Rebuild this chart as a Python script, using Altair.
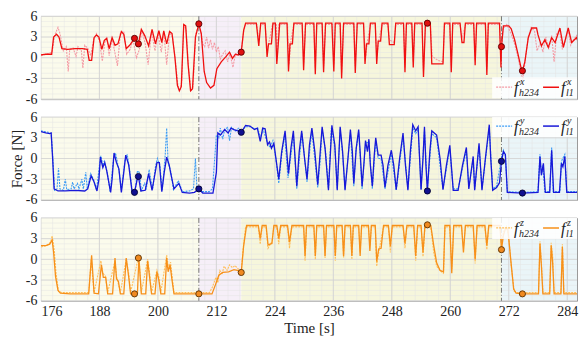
import altair as alt
import pandas as pd

# ---------------- data ----------------
TICKS_X = [176, 188, 200, 212, 224, 236, 248, 260, 272, 284]
TICKS_Y = [-6, -3, 0, 3, 6]
PHASE_EDGES = [176.0, 208.4, 217.1, 270.5, 288.0]
PHASE_COLORS = ["#fbfbec", "#f6eff8", "#f6f6dc", "#eaf5f8"]
PHASE_LINES = [208.4, 270.5]
MARK_T = [195.2, 196.0, 208.4, 217.1, 255.3, 270.5, 274.8]
MARK_X = [2.8, 2.0, 4.9, 0.8, 5.0, 1.6, -1.9]
MARK_Y = [-4.9, -2.6, -4.4, 3.8, -4.7, -0.4, -5.0]
MARK_Z = [-5.0, 0.2, -5.0, -1.9, 5.0, 1.4, -5.0]

FX_L1 = [(176.0, 0.4), (177.0, 0.5), (178.2, 0.5), (178.6, 3.0), (179.2, 3.4), (179.7, 3.0), (180.3, 1.3),
         (181.5, 1.2), (183.0, 1.3), (184.5, 1.3), (185.5, 1.2), (185.9, -0.4), (186.4, -0.4), (186.9, 2.9),
         (187.4, 3.3), (187.9, 3.0), (188.5, 1.2), (189.0, 2.5), (189.5, 2.8), (190.0, 1.3), (190.6, 2.9),
         (191.2, 1.8), (191.8, 2.0), (192.5, 3.8), (193.0, 3.4), (193.5, 1.3), (194.2, 1.8), (194.7, 2.3),
         (195.2, 2.8), (196.0, 2.0), (196.6, 4.1), (197.3, 3.2), (198.1, 1.7), (198.8, 4.1), (199.5, 2.0),
         (200.2, 3.9), (200.8, 2.2), (201.2, 3.9), (201.8, 2.0), (202.4, 3.8), (202.9, 3.5), (203.5, 0.0),
         (204.0, -4.0), (204.4, -4.8), (204.8, -4.2), (205.3, 4.8), (205.7, 4.6), (206.2, -1.0), (206.7, -4.8),
         (207.1, -4.5), (207.7, 3.0), (208.4, 4.9), (208.9, 3.5), (209.5, -2.0), (210.0, -3.6), (210.8, -4.4),
         (211.5, -4.0), (212.1, -1.6), (213.0, -0.6), (214.0, 0.2), (214.7, 0.8), (215.3, -0.1), (215.9, 0.5),
         (216.5, 0.4), (217.1, 0.8), (217.6, 4.0), (218.0, 5.0), (220.2, 5.0), (220.7, 1.7), (221.1, 5.0),
         (222.0, 5.0), (222.4, 0.1), (222.7, 2.0), (223.3, 2.0), (223.6, 5.0), (224.1, 5.0), (224.4, -0.9),
         (224.7, 2.0), (225.0, 5.0), (226.5, 5.0), (226.8, -2.0), (227.1, 2.0), (227.6, 2.0), (227.9, 5.0),
         (229.6, 5.0), (229.9, -1.8), (230.3, 5.0), (232.0, 5.0), (232.3, -2.4), (232.6, 5.0), (233.7, 5.0),
         (234.0, -2.1), (234.4, 5.0), (235.7, 5.0), (236.1, -2.0), (236.4, 5.0), (237.4, 5.0), (237.7, -3.0),
         (238.1, 5.0), (240.2, 5.0), (240.5, -2.2), (240.9, 5.0), (242.2, 5.0), (242.5, -0.9), (242.8, 2.0),
         (243.3, 2.0), (243.6, 5.0), (244.6, 5.0), (244.9, -0.9), (245.2, 2.4), (245.7, 2.4), (246.0, 5.0),
         (247.2, 5.0), (247.5, 1.9), (248.5, 1.9), (248.8, 5.0), (250.4, 5.0), (250.7, -2.1), (251.0, 5.0),
         (252.1, 5.0), (252.4, -1.4), (252.7, 5.0), (254.2, 5.0), (254.5, -2.8), (254.9, 5.0), (255.9, 5.0),
         (256.2, -0.9), (258.5, -0.9), (258.8, 5.0), (259.9, 5.0), (260.2, -2.1), (260.5, 5.0), (262.0, 5.0),
         (262.4, 2.2), (262.8, 2.2), (263.1, 5.0), (264.8, 5.0), (265.1, -1.1), (265.4, 5.0), (267.2, 5.0),
         (267.5, -2.5), (267.8, 5.0), (270.1, 5.0), (270.4, -1.4), (270.5, 1.6), (270.9, 4.6), (272.0, 4.6),
         (272.5, 4.2), (273.2, 2.6), (273.8, 0.8), (274.5, -1.4), (274.8, -1.9), (275.3, -0.6), (276.0, 2.9),
         (276.7, 4.3), (277.7, 4.3), (278.0, 3.3), (278.7, 1.7), (279.4, 2.6), (280.1, 1.5), (280.8, 2.9),
         (281.5, 2.2), (282.5, 4.3), (283.2, 1.5), (284.2, 4.3), (284.9, 2.2), (285.9, 2.9), (286.6, 1.7),
         (287.7, 2.6)]

FX_H234 = [(176.0, 0.3), (177.5, 0.6), (178.3, 0.8), (178.8, 3.2), (179.5, 4.4), (179.9, 3.5), (180.3, 2.0),
           (180.6, 1.0), (181.2, 1.6), (181.6, -2.0), (181.9, 1.2), (182.6, 1.4), (183.2, 0.2), (183.6, 1.6),
           (184.3, 1.0), (184.6, -1.5), (185.0, 1.8), (185.6, 1.4), (186.2, 0.3), (186.8, 2.6), (187.4, 3.5),
           (188.0, 2.4), (188.6, -0.5), (189.1, 2.2), (189.5, 3.0), (190.0, 0.3), (190.6, 2.8), (191.1, 1.0),
           (191.7, -1.2), (192.3, 3.6), (193.0, 3.8), (193.6, 0.5), (194.3, 1.2), (194.9, 2.6), (195.6, 0.0),
           (196.2, 1.2), (196.7, 4.0), (197.4, 2.0), (198.0, -1.0), (198.7, 3.8), (199.4, 1.0), (200.0, 3.5),
           (200.7, 0.8), (201.2, 3.8), (201.8, -1.0), (202.4, 3.6), (203.0, 3.0), (203.6, -0.5), (204.1, -4.0),
           (204.5, -4.8), (204.9, -3.5), (205.3, 4.6), (205.8, 4.2), (206.3, -1.5), (206.8, -4.9), (207.2, -4.2),
           (207.8, 3.5), (208.4, 4.8), (208.8, 3.8), (209.2, 2.0), (209.6, 1.6), (210.0, 3.0), (210.4, 1.4),
           (210.8, 2.6), (211.2, 1.2), (211.6, 2.2), (212.0, 0.8), (212.4, 1.6), (212.8, -0.2), (213.3, 0.5),
           (213.8, 1.0), (214.3, -0.6), (214.8, 0.6), (215.4, -1.4), (215.9, 0.5), (216.5, 0.6), (217.1, 0.8),
           (217.6, 3.8), (218.0, 4.8), (220.3, 4.8), (220.7, 2.6), (221.1, 4.8), (222.0, 4.8), (222.4, 1.2),
           (222.9, 2.6), (223.5, 4.8), (224.3, 4.8), (224.5, 0.2), (224.8, 4.8), (226.6, 4.8), (226.9, -1.0),
           (227.3, 2.6), (227.9, 4.8), (229.6, 4.8), (229.9, -0.8), (230.3, 4.8), (232.0, 4.8), (232.3, -1.5),
           (232.6, 4.8), (233.7, 4.8), (234.0, -1.2), (234.4, 4.8), (235.8, 4.8), (236.1, -1.0), (236.4, 4.8),
           (237.4, 4.8), (237.7, -2.2), (238.1, 4.8), (240.2, 4.8), (240.5, -1.2), (240.9, 4.8), (242.2, 4.8),
           (242.6, 0.0), (243.0, 2.4), (243.6, 4.8), (244.6, 4.8), (244.9, 0.2), (245.4, 2.8), (246.0, 4.8),
           (247.2, 4.8), (247.5, 2.6), (248.5, 2.2), (248.8, 4.8), (250.4, 4.8), (250.7, -1.4), (251.0, 4.8),
           (252.1, 4.8), (252.4, -0.6), (252.7, 4.8), (254.2, 4.8), (254.5, -2.0), (254.9, 4.8), (255.9, 4.8),
           (256.3, 0.2), (257.5, -0.4), (258.5, -0.6), (258.8, 4.8), (259.9, 4.8), (260.2, -1.2), (260.5, 4.8),
           (262.0, 4.8), (262.4, 2.8), (263.1, 4.8), (264.8, 4.8), (265.1, -0.3), (265.4, 4.8), (267.2, 4.8),
           (267.5, -1.6), (267.8, 4.8), (270.1, 4.8), (270.4, -0.6), (270.8, 4.2), (271.6, 4.8), (272.4, 3.6),
           (273.2, 2.0), (273.9, 0.0), (274.6, -2.4), (274.9, -3.2), (275.4, -0.2), (276.0, 3.0), (276.6, 4.4),
           (277.3, 3.8), (277.8, 1.0), (278.5, 2.2), (279.0, 0.8), (279.6, 3.0), (280.2, 1.2), (280.8, 3.2),
           (281.3, -0.6), (281.8, 3.4), (282.4, 4.0), (283.0, 1.2), (283.6, 2.4), (284.2, 4.0), (284.7, 1.8),
           (285.3, 2.6), (285.9, 3.2), (286.4, 1.4), (287.0, 2.2), (287.7, 2.8)]

FY_L1 = [(176.0, 3.9), (177.0, 3.7), (177.8, 3.6), (178.1, 3.7), (178.4, 0.0), (178.7, -4.4), (179.5, -4.7),
         (181.0, -4.7), (183.0, -4.6), (185.0, -4.7), (185.6, -4.4), (186.3, -2.5), (186.9, -3.4), (187.5, -4.7),
         (187.9, -3.0), (188.2, 0.2), (188.7, -1.3), (189.1, -0.6), (189.5, -1.8), (190.3, -4.9), (190.6, -3.0),
         (191.0, 0.8), (191.5, -0.6), (192.0, -1.5), (192.5, -4.9), (193.0, -2.0), (193.4, 0.5), (194.0, -0.9),
         (194.7, -4.8), (195.2, -4.9), (195.7, -3.2), (196.0, -2.6), (196.5, -4.7), (197.4, -4.6), (198.1, -2.2),
         (198.8, -4.6), (199.2, -3.0), (199.8, -0.6), (200.3, -0.6), (200.8, -4.8), (201.3, -2.0), (201.8, 0.2),
         (202.3, -0.9), (202.6, -2.0), (203.3, -4.4), (204.3, -3.6), (205.0, -4.9), (206.5, -5.0), (207.5, -4.9),
         (208.4, -4.4), (209.2, -5.0), (211.3, -5.0), (212.0, -2.0), (212.3, 3.7), (212.8, 3.4), (213.7, 4.2),
         (214.4, 3.7), (215.0, 4.4), (215.6, 4.2), (216.4, 4.0), (217.1, 3.8), (218.0, 4.8), (218.9, 4.7),
         (219.8, 4.2), (220.4, 4.4), (221.0, 2.5), (221.5, 4.4), (222.0, 4.3), (222.5, 2.0), (222.9, 2.4),
         (223.3, 1.5), (223.8, 2.2), (224.8, -3.0), (225.4, 1.0), (226.1, 4.0), (226.8, -2.2), (227.3, 1.5),
         (227.8, 4.0), (228.5, -4.0), (229.0, 1.0), (229.5, 4.0), (230.1, 0.0), (230.6, -3.0), (231.1, 2.0),
         (231.6, 4.4), (232.2, 1.0), (232.8, -3.8), (233.2, 0.0), (233.7, 4.6), (234.3, 1.5), (235.0, -4.6),
         (235.7, 4.8), (236.3, 2.0), (236.8, -4.6), (237.4, 4.6), (237.9, 1.0), (238.4, -4.6), (239.0, 0.0),
         (239.5, 4.2), (239.9, 1.0), (240.2, -3.6), (240.7, 1.5), (241.2, 4.2), (241.5, 1.0), (241.9, -4.0),
         (242.3, -0.5), (242.6, 2.6), (243.0, 1.0), (243.3, 2.8), (243.6, -1.0), (244.0, -4.0), (244.4, 0.5),
         (244.7, 3.0), (245.2, 0.5), (245.8, 0.5), (246.2, -1.0), (246.6, -4.2), (247.2, -1.0), (247.9, 1.2),
         (248.4, -1.0), (248.9, -4.5), (249.6, 0.0), (250.3, 3.7), (250.8, -1.0), (251.3, -4.6), (251.8, 1.0),
         (252.3, 4.9), (252.9, 4.0), (253.4, 4.6), (254.0, -4.5), (254.4, 0.0), (254.7, 4.6), (255.0, -1.0),
         (255.3, -4.7), (255.8, 1.0), (256.2, 4.0), (257.2, 3.4), (257.9, 0.0), (258.5, -4.5), (259.2, -1.0),
         (259.9, 1.9), (260.6, -4.6), (261.6, -4.6), (262.5, -1.0), (263.3, 1.6), (263.8, -4.4), (264.7, 0.3),
         (265.0, -4.6), (265.9, 2.2), (266.5, -4.6), (267.2, 0.0), (268.0, 4.9), (268.3, 0.0), (268.7, -4.6),
         (269.5, -4.2), (270.1, -3.5), (270.5, -0.4), (270.9, 1.0), (271.3, 0.6), (271.7, -4.9), (274.8, -5.0),
         (278.0, -4.9), (278.4, 0.3), (278.7, -2.4), (279.1, -0.7), (279.5, -4.9), (280.4, -4.9), (280.8, 1.2),
         (281.2, -4.9), (282.4, -4.9), (282.8, -0.7), (283.1, -1.2), (283.5, 0.3), (283.9, -4.9), (287.7, -4.9)]

FY_H234 = [(176.0, 4.0), (177.5, 3.8), (178.1, 3.6), (178.4, 0.5), (178.8, -4.6), (179.3, -4.4), (179.6, -1.4),
           (179.9, -4.4), (180.6, -4.6), (181.0, -3.0), (181.3, -4.5), (182.2, -4.4), (182.5, -3.4), (182.8, -4.4),
           (183.5, -3.6), (183.8, -4.4), (184.4, -3.0), (184.7, -4.4), (185.2, -2.0), (185.5, -4.4), (186.2, -2.2),
           (186.9, -3.2), (187.4, -4.6), (188.0, -1.0), (188.3, 0.4), (188.7, -1.0), (189.0, -0.4), (189.6, -2.0),
           (190.2, -4.8), (190.9, 0.0), (191.3, 0.8), (191.6, -0.2), (192.1, -2.2), (192.5, -4.6), (193.2, -0.4),
           (193.7, 0.6), (194.2, -1.6), (194.7, -4.6), (195.3, -4.8), (195.8, -1.8), (196.2, -2.0), (196.6, -4.6),
           (197.3, -3.6), (197.6, -4.5), (198.2, -1.6), (198.9, -4.5), (199.5, -1.2), (199.9, 0.0), (200.4, -1.0),
           (200.9, -4.6), (201.5, 0.5), (201.8, 4.4), (202.1, -0.6), (202.6, -1.8), (203.2, -4.5), (204.2, -3.2),
           (205.0, -4.8), (206.5, -4.7), (207.3, -4.4), (207.7, 0.0), (208.0, -4.2), (208.4, -4.6), (209.0, -4.8),
           (210.5, -4.8), (211.2, -4.4), (211.6, -0.5), (212.0, 3.4), (212.5, 3.0), (212.8, 4.4), (213.3, 2.8),
           (213.7, 4.2), (214.3, 4.5), (214.7, 2.6), (215.1, 4.5), (215.9, 4.0), (216.6, 4.4), (217.1, 4.0),
           (218.0, 4.6), (219.0, 4.6), (219.8, 4.3), (220.5, 4.4), (221.0, 3.0), (221.6, 4.2), (222.4, 2.4),
           (223.0, 1.6), (223.6, 2.6), (224.2, 0.0), (224.8, -3.6), (225.4, 0.5), (226.0, 3.4), (226.7, -2.8),
           (227.4, 1.0), (227.8, 3.6), (228.5, -4.4), (229.1, 0.5), (229.6, 3.6), (230.6, -3.4), (231.2, 1.5),
           (231.6, 4.0), (232.8, -4.2), (233.3, -0.4), (233.7, 4.2), (234.4, 1.0), (235.0, -4.4), (235.6, 4.4),
           (236.3, 1.6), (236.8, -4.4), (237.4, 4.2), (237.9, 0.6), (238.4, -4.4), (239.5, 3.8), (240.2, -4.0),
           (240.6, 1.0), (241.2, 3.8), (241.9, -4.4), (242.6, 2.2), (243.3, 2.4), (244.0, -4.4), (244.7, 2.6),
           (245.2, 0.0), (245.8, 0.0), (246.6, -4.4), (247.9, 0.8), (248.9, -4.6), (250.3, 3.2), (251.3, -4.4),
           (252.3, 4.4), (252.9, 3.6), (253.4, 4.2), (254.0, -4.4), (254.7, 4.2), (255.3, -4.4), (256.2, 3.6),
           (257.2, 3.0), (258.5, -4.4), (259.9, 1.4), (260.6, -4.4), (261.6, -4.4), (263.3, 1.2), (263.8, -4.2),
           (264.7, 0.0), (265.0, -4.4), (265.9, 1.8), (266.5, -4.4), (268.0, 4.4), (268.7, -4.4), (269.5, -4.0),
           (270.0, -2.0), (270.5, 0.2), (270.9, 1.2), (271.3, 0.4), (271.7, -4.8), (275.0, -4.9), (278.0, -4.8),
           (278.4, 0.6), (278.7, -2.4), (279.0, -1.0), (279.4, -4.8), (280.4, -4.8), (280.8, 1.6), (281.1, -4.8),
           (282.5, -4.8), (282.8, -0.4), (283.5, 0.6), (283.9, -4.8), (287.7, -4.8)]

FZ_L1 = [(176.0, 2.0), (177.0, 2.0), (177.8, 2.2), (178.3, 2.8), (178.6, 1.0), (179.0, -2.5), (179.5, -4.5),
         (180.0, -4.9), (182.0, -5.0), (184.0, -5.0), (185.8, -5.0), (186.4, 0.6), (186.9, -4.9), (187.8, -5.0),
         (188.4, -0.8), (188.8, -2.6), (189.3, -2.6), (189.7, -5.0), (190.7, -5.0), (191.2, 0.2), (191.5, -2.8),
         (191.9, -3.2), (192.3, -5.0), (193.0, -5.0), (193.5, 0.2), (194.0, -2.5), (194.4, -5.0), (195.2, -5.0),
         (195.8, -4.9), (196.1, 0.2), (196.6, -5.0), (197.5, -5.0), (197.9, -0.2), (198.3, -2.6), (198.7, -5.0),
         (199.4, -5.0), (199.8, -1.8), (200.2, -3.0), (200.6, -5.0), (201.4, -5.0), (201.8, 0.2), (202.1, -1.8),
         (202.5, -0.8), (202.9, -3.0), (203.3, -5.0), (208.4, -5.0), (211.1, -5.0), (211.8, -3.7), (212.5, -2.3),
         (213.3, -1.9), (214.5, -1.8), (215.6, -1.5), (216.3, -1.6), (217.1, -1.9), (217.6, 2.0), (218.2, 4.9),
         (220.6, 4.9), (221.0, 3.0), (221.4, 4.9), (222.2, 4.9), (222.6, 2.1), (223.4, 2.3), (223.8, 4.9),
         (224.4, 4.9), (224.8, 3.0), (225.2, 4.9), (226.6, 4.9), (227.0, 2.5), (227.5, 4.9), (229.9, 4.9),
         (230.2, 0.5), (230.5, 4.9), (232.0, 4.9), (232.3, 0.5), (232.6, 4.9), (234.0, 4.9), (234.3, 0.5),
         (234.6, 4.9), (236.1, 4.9), (236.4, 0.5), (236.7, 4.9), (237.8, 4.9), (238.1, 0.5), (238.4, 4.9),
         (239.5, 4.9), (239.8, 0.5), (240.1, 4.9), (241.2, 4.9), (241.5, 0.5), (241.8, 4.9), (243.2, 4.9),
         (243.5, 1.2), (243.8, 4.9), (244.6, 4.9), (244.9, -0.3), (245.3, 1.5), (245.8, 1.6), (246.3, 4.9),
         (247.3, 4.9), (247.7, 1.9), (248.1, 4.9), (250.3, 4.9), (250.7, 2.3), (251.1, 4.9), (252.5, 4.9),
         (252.9, 0.5), (253.3, 4.9), (254.0, 4.9), (254.4, 1.0), (254.8, 4.9), (255.3, 5.0), (256.0, 4.9),
         (256.6, 2.0), (257.2, -0.5), (257.9, -1.6), (258.6, -1.8), (258.9, 4.9), (259.9, 4.9), (260.3, -2.0),
         (260.7, 4.9), (262.3, 4.9), (262.7, 1.0), (263.1, 4.9), (264.7, 4.9), (265.1, 0.0), (265.5, 4.9),
         (267.1, 4.9), (267.5, 2.0), (267.9, 4.9), (270.2, 4.9), (270.5, 1.4), (270.9, 3.5), (271.3, 4.4),
         (271.8, 4.4), (272.4, 0.0), (273.0, -4.3), (273.5, -4.9), (274.8, -5.0), (278.1, -5.0), (278.4, 2.3),
         (278.7, -1.0), (279.0, -5.0), (280.4, -5.0), (280.7, 2.0), (281.0, -0.5), (281.3, -5.0), (282.7, -5.0),
         (283.0, 1.8), (283.3, -5.0), (287.7, -5.0)]

FZ_H234 = [(176.0, 1.8), (177.2, 2.0), (178.0, 2.5), (178.3, 3.4), (178.7, 1.5), (179.1, -2.0), (179.6, -4.6),
           (180.2, -4.8), (185.8, -4.8), (186.3, 0.0), (186.9, -4.8), (188.3, -0.2), (188.7, -2.0), (189.2, -2.4),
           (189.7, -4.8), (191.2, -0.2), (191.5, -2.4), (192.3, -4.8), (193.5, 0.0), (194.0, -2.0), (194.4, -4.8),
           (196.1, 0.6), (196.6, -4.8), (197.9, 0.0), (198.3, -2.0), (198.7, -4.8), (199.8, -1.6), (200.2, -2.6),
           (200.6, -4.8), (201.8, 0.6), (202.2, -1.2), (202.6, -0.4), (202.9, -2.4), (203.3, -4.8), (210.6, -4.8),
           (211.2, -4.0), (211.9, -2.6), (212.3, -3.4), (212.7, -1.6), (213.2, -2.0), (213.6, -1.0), (214.2, -1.6),
           (214.7, -0.8), (215.3, -1.2), (215.8, -0.9), (216.5, -1.4), (217.1, -1.8), (217.5, 1.5), (218.0, 4.7),
           (220.6, 4.7), (221.0, 2.2), (221.4, 4.7), (222.2, 4.7), (222.6, 1.6), (223.4, 2.6), (223.8, 4.7),
           (224.4, 4.7), (224.8, 2.2), (225.2, 4.7), (226.6, 4.7), (227.0, 1.6), (227.5, 4.7), (229.9, 4.7),
           (230.2, -0.2), (230.5, 4.7), (232.0, 4.7), (232.3, 0.0), (232.6, 4.7), (234.0, 4.7), (234.3, 0.2),
           (234.6, 4.7), (236.1, 4.7), (236.4, -0.2), (236.7, 4.7), (237.8, 4.7), (238.1, 0.2), (238.4, 4.7),
           (239.5, 4.7), (239.8, 0.0), (240.1, 4.7), (241.2, 4.7), (241.5, 1.0), (241.8, 4.7), (243.2, 4.7),
           (243.5, 2.0), (243.8, 4.7), (244.6, 4.7), (244.9, -1.0), (245.3, 1.0), (246.3, 4.7), (247.3, 4.7),
           (247.7, 1.0), (248.1, 4.7), (250.3, 4.7), (250.7, 1.6), (251.1, 4.7), (252.5, 4.7), (252.9, -0.2),
           (253.3, 4.7), (254.0, 4.7), (254.4, 0.4), (254.8, 4.7), (256.0, 4.7), (256.6, 1.0), (257.2, -1.0),
           (258.2, -1.8), (258.6, -2.0), (258.9, 4.7), (259.9, 4.7), (260.3, -1.4), (260.7, 4.7), (262.3, 4.7),
           (262.7, 1.8), (263.1, 4.7), (264.7, 4.7), (265.1, -0.6), (265.5, 4.7), (267.1, 4.7), (267.5, 1.4),
           (267.9, 4.7), (270.2, 4.7), (270.5, 2.0), (270.9, 4.0), (271.5, 4.8), (272.0, 3.2), (272.5, -1.0),
           (273.1, -4.6), (273.6, -4.8), (278.1, -4.8), (278.4, 2.6), (278.7, -0.5), (279.0, -4.8), (280.4, -4.8),
           (280.7, 2.4), (281.0, 0.5), (281.3, -4.8), (282.7, -4.8), (283.0, 2.2), (283.3, -4.8), (287.7, -4.8)]

# ---------------- layout / style ----------------
X0, X1 = 176.0, 286.0
W, H = 537, 83
FONT = "Liberation Serif"

xs = alt.Scale(domain=[X0, X1], nice=False, zero=False)
ys = alt.Scale(domain=[-6, 6], nice=False, zero=False)

phase_df = pd.DataFrame({"start": PHASE_EDGES[:-1], "end": PHASE_EDGES[1:], "color": PHASE_COLORS})
pline_df = pd.DataFrame({"t": PHASE_LINES})
minor_x_df = pd.DataFrame({"t": [X0 + 2.4 * i for i in range(47)]})
minor_y_df = pd.DataFrame({"v": [-6 + 0.75 * i for i in range(17)]})
major_x_df = pd.DataFrame({"t": TICKS_X})
major_y_df = pd.DataFrame({"v": TICKS_Y})
one = pd.DataFrame({"a": [0]})


def panel(h_pairs, l_pairs, mk_vals, light, dark, mfill, medge, comp, leg_y, bottom, ytitle):
    xkw = dict(values=TICKS_X, grid=False, ticks=False, domain=False, labels=bottom,
               labelFontSize=14, labelPadding=4, titleFontSize=15, titlePadding=2,
               labelFont=FONT, titleFont=FONT, titleFontWeight="normal", labelColor="#222",
               titleColor="#222")
    xkw["title"] = "Time [s]" if bottom else None
    ykw = dict(values=TICKS_Y, grid=False, ticks=False, domain=False, labelFontSize=14,
               labelPadding=4, titleFontSize=15, titlePadding=1, labelFont=FONT, titleFont=FONT,
               titleFontWeight="normal", labelColor="#222", titleColor="#222",
               labelExpr="replace(datum.label, '\u2212', '-')")
    ykw["title"] = "Force [N]" if ytitle else None
    XAX = alt.Axis(**xkw)
    YAX = alt.Axis(**ykw)

    def X(f):
        return alt.X(f, scale=xs, axis=XAX)

    def Y(f):
        return alt.Y(f, scale=ys, axis=YAX)

    bg = alt.Chart(phase_df).mark_rect(clip=True).encode(
        x=X("start:Q"), x2="end:Q", color=alt.Color("color:N", scale=None))
    gy = alt.Chart(major_y_df).mark_rule(color="#d2d2d2", strokeWidth=0.8).encode(y=Y("v:Q"))
    mgx = alt.Chart(minor_x_df).mark_rule(color="#e4e4e4", strokeWidth=0.5, clip=True).encode(x=X("t:Q"))
    mgy = alt.Chart(minor_y_df).mark_rule(color="#e4e4e4", strokeWidth=0.5).encode(y=Y("v:Q"))
    gx = alt.Chart(major_x_df).mark_rule(color="#cfcfcf", strokeWidth=0.8, clip=True).encode(x=X("t:Q"))
    pl = alt.Chart(pline_df).mark_rule(color="#555555", strokeWidth=0.8,
                                       strokeDash=[5, 2, 1, 2]).encode(x=X("t:Q"))
    hdf = pd.DataFrame(h_pairs, columns=["t", "v"])
    ldf = pd.DataFrame(l_pairs, columns=["t", "v"])
    lh = alt.Chart(hdf).mark_line(color=light, strokeWidth=1.1, strokeDash=[2, 1], clip=True).encode(
        x=X("t:Q"), y=Y("v:Q"))
    ll = alt.Chart(ldf).mark_line(color=dark, strokeWidth=1.3, clip=True).encode(
        x=X("t:Q"), y=Y("v:Q"))
    mdf = pd.DataFrame({"t": MARK_T, "v": mk_vals})
    mk = alt.Chart(mdf).mark_point(filled=True, shape="circle", size=38, fill=mfill, stroke=medge,
                                   strokeWidth=0.9, opacity=1, clip=True).encode(x=X("t:Q"), y=Y("v:Q"))

    # legend, kept fully inside the plot area
    lx = W - 85
    box = alt.Chart(one).mark_rect(fill="white", opacity=0.85, clip=True).encode(
        x=alt.value(lx), x2=alt.value(W), y=alt.value(leg_y - 10), y2=alt.value(leg_y + 11))
    r1 = alt.Chart(one).mark_rule(color=light, strokeWidth=1.3, strokeDash=[2, 1], clip=True).encode(
        x=alt.value(lx + 4), x2=alt.value(lx + 20), y=alt.value(leg_y))
    r2 = alt.Chart(one).mark_rule(color=dark, strokeWidth=1.5, clip=True).encode(
        x=alt.value(lx + 51), x2=alt.value(lx + 67), y=alt.value(leg_y))

    def txt(s, x, y, size):
        return alt.Chart(one).mark_text(font=FONT, fontStyle="italic", fontSize=size, align="left",
                                        baseline="alphabetic", color="#222", clip=True).encode(
            x=alt.value(x), y=alt.value(y), text=alt.value(s))

    legend = [box, r1, r2,
              txt("f", lx + 22, leg_y + 6, 16), txt(comp, lx + 28, leg_y - 2, 10),
              txt("h234", lx + 27, leg_y + 9, 10),
              txt("f", lx + 69, leg_y + 6, 16), txt(comp, lx + 75, leg_y - 2, 10),
              txt("l1", lx + 74, leg_y + 9, 10)]

    return alt.layer(bg, mgx, mgy, gx, gy, pl, lh, ll, mk, *legend).properties(width=W, height=H)


p1 = panel(FX_H234, FX_L1, MARK_X, "#f49aa4", "#f01010", "#e01010", "#5a0000", "x", 71, False, False)
p2 = panel(FY_H234, FY_L1, MARK_Y, "#3c9cf5", "#1818d8", "#101090", "#000030", "y", 9, False, True)
p3 = panel(FZ_H234, FZ_L1, MARK_Z, "#ffbf5a", "#f7901a", "#f08a20", "#5a3000", "z", 10, True, False)

chart = alt.vconcat(p1, p2, p3, spacing=18, bounds="flush").properties(
    padding={"left": 0, "top": 0, "right": 0, "bottom": 0}
).configure_view(stroke="#9a9a9a", strokeWidth=1)

chart.save("out.html", embed_options={"renderer": "svg", "actions": False})
